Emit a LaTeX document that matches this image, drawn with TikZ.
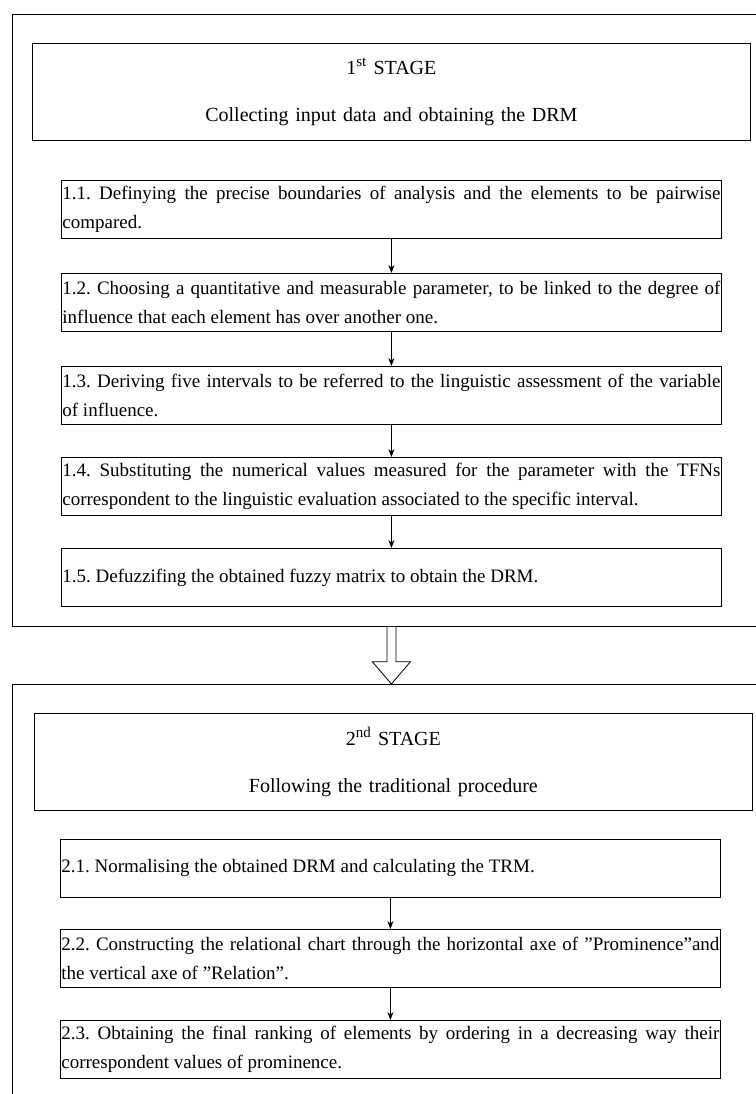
\documentclass[tikz,border=0pt]{standalone}
\usepackage{fontspec}
\setmainfont{Liberation Serif}
\usetikzlibrary{arrows.meta,calc}
\begin{document}
\frenchspacing
\begin{tikzpicture}[x=1pt,y=-1pt,
  frame/.style={draw=black,line width=0.8pt,anchor=north west,inner sep=0pt},
  headbox/.style={draw=black,line width=0.8pt,anchor=north west,inner sep=0pt,
    minimum height=97pt,align=center,font=\fontsize{20}{47}\selectfont},
  stepbox/.style={draw=black,line width=0.8pt,anchor=north west,inner xsep=1pt,inner ysep=0pt,
    minimum height=58pt,text width=658pt,align=justify,font=\fontsize{19}{28.5}\selectfont},
  arr/.style={-{Stealth[length=8pt,width=6pt]},line width=0.7pt,black}]
\useasboundingbox (0,0) rectangle (755,1094);
\fill[white] (0,0) rectangle (755,1094);
% stage 1
\node[frame,minimum width=760pt,minimum height=612pt] (outer1) at (12,14) {};
\node[headbox,text width=718pt] (head1) at (32,43) {1\textsuperscript{\fontsize{15}{15}\selectfont st} STAGE\\Collecting input data and obtaining the DRM};
\node[stepbox] (b11) at (61,180) {1.1. Definying the precise boundaries of analysis and the elements to be pairwise\linebreak compared.};
\node[stepbox] (b12) at (61,273) {1.2. Choosing a quantitative and measurable parameter, to be linked to the degree of\linebreak influence that each element has over another one.};
\node[stepbox] (b13) at (61,366) {1.3. Deriving five intervals to be referred to the linguistic assessment of the variable\linebreak of influence.};
\node[stepbox] (b14) at (61,457) {1.4. Substituting the numerical values measured for the parameter with the TFNs\linebreak correspondent to the linguistic evaluation associated to the specific interval.};
\node[stepbox] (b15) at (61,548) {1.5. Defuzzifing the obtained fuzzy matrix to obtain the DRM.};
\draw[arr] (b11) -- (b12);
\draw[arr] (b12) -- (b13);
\draw[arr] (b13) -- (b14);
\draw[arr] (b14) -- (b15);
% stage 2
\node[frame,minimum width=760pt,minimum height=420pt] (outer2) at (12,684) {};
\node[headbox,text width=718pt] (head2) at (34,713) {2\textsuperscript{\fontsize{15}{15}\selectfont nd} STAGE\\Following the traditional procedure};
\node[stepbox] (b21) at (60,839) {2.1. Normalising the obtained DRM and calculating the TRM.};
\node[stepbox] (b22) at (60,929) {2.2. Constructing the relational chart through the horizontal axe of ”Prominence”and\linebreak the vertical axe of ”Relation”.};
\node[stepbox] (b23) at (60,1020) {2.3. Obtaining the final ranking of elements by ordering in a decreasing way their\linebreak correspondent values of prominence.};
\draw[arr] (b21) -- (b22);
\draw[arr] (b22) -- (b23);
% hollow arrow between stages
\coordinate (at) at (b15.south |- outer1.south);
\coordinate (ab) at (b15.south |- outer2.north);
\draw[line width=0.8pt,fill=white] ($(at)+(-4.5,0)$) -- ($(at)+(-4.5,35)$) -- ($(at)+(-19,35)$) -- (ab)
  -- ($(at)+(19,35)$) -- ($(at)+(4.5,35)$) -- ($(at)+(4.5,0)$);
\end{tikzpicture}
\end{document}
